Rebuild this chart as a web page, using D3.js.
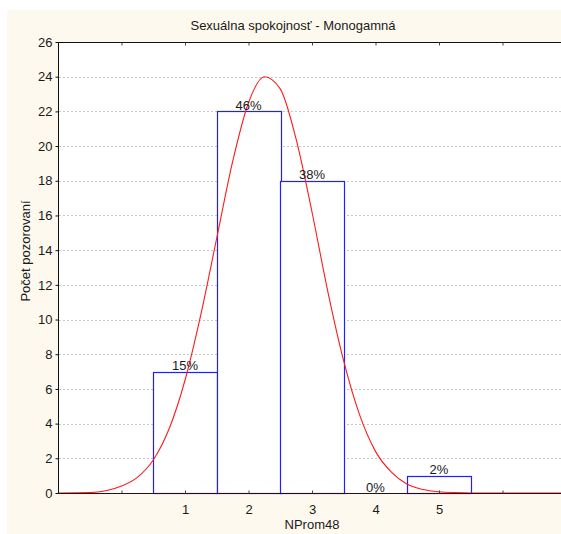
<!DOCTYPE html>
<html>
<head>
<meta charset="utf-8">
<script src="https://cdn.jsdelivr.net/npm/d3@7"></script>
<style>
  html, body { margin: 0; padding: 0; background: #ffffff; }
  svg { display: block; }
  text { font-family: "Liberation Sans", Arial, sans-serif; fill: #1a1a1a; }
</style>
</head>
<body>
<svg id="chart" width="561" height="534"></svg>
<script>
// ---- data ----
const title = "Sexuálna spokojnosť - Monogamná";
const xTitle = "NProm48";
const yTitle = "Počet pozorovaní";
const categories = [1, 2, 3, 4, 5];
const counts = [7, 22, 18, 0, 1];
const percentLabels = ["15%", "46%", "38%", "0%", "2%"];
const xTickValues = [0, 1, 2, 3, 4, 5, 6];
const xTickLabels = ["", "1", "2", "3", "4", "5", ""];
const yTickValues = [0, 2, 4, 6, 8, 10, 12, 14, 16, 18, 20, 22, 24, 26];
// fitted normal curve
const curveX = [-1, -0.5, 0, 0.25, 0.5, 0.75, 1.0, 1.25, 1.5, 1.75, 2.0, 2.25, 2.5, 2.75, 3.0, 3.25, 3.5, 3.75, 4.0, 4.25, 4.5, 4.75, 5.0, 5.25, 5.5, 6, 7];
const curveY = [0, 0.02, 0.4, 0.9, 1.9, 3.7, 6.5, 10.3, 14.7, 19.1, 22.5, 24.0, 23.3, 20.4, 16.2, 11.6, 7.6, 4.5, 2.4, 1.2, 0.5, 0.2, 0.07, 0.02, 0, 0, 0];

// ---- layout ----
const svg = d3.select("#chart");
const mLeft = 58, mTop = 42, mBottom = 493;
const x = d3.scaleLinear().domain([-1, 7]).range([mLeft, mLeft + 8 * 63.5]);
const y = d3.scaleLinear().domain([0, 26]).range([mBottom, mTop]);
const rightEdge = 561;

// backgrounds
svg.append("rect").attr("x", 7).attr("y", 10).attr("width", 561 - 7).attr("height", 534 - 10).attr("fill", "#fdf9ee");
svg.append("rect").attr("x", mLeft).attr("y", mTop).attr("width", rightEdge - mLeft).attr("height", mBottom - mTop).attr("fill", "#ffffff");

// gridlines
svg.append("g").selectAll("line")
  .data(yTickValues.filter(v => v > 0 && v < 26))
  .join("line")
  .attr("x1", mLeft + 1).attr("x2", rightEdge)
  .attr("y1", d => Math.round(y(d)) + 0.5).attr("y2", d => Math.round(y(d)) + 0.5)
  .attr("stroke", "#c8c8c8").attr("stroke-width", 1).attr("stroke-dasharray", "2,2");

// bars
const bw = x(1) - x(0);
const barData = categories.map((c, i) => ({ c, n: counts[i], p: percentLabels[i] }));
svg.append("g").selectAll("rect")
  .data(barData.filter(d => d.n > 0))
  .join("rect")
  .attr("x", d => Math.round(x(d.c - 0.5)) + 0.5)
  .attr("y", d => Math.round(y(d.n)) + 0.5)
  .attr("width", Math.round(bw))
  .attr("height", d => Math.round(y(0)) - Math.round(y(d.n)))
  .attr("fill", "#ffffff").attr("stroke", "#1f1fff").attr("stroke-width", 1.2);

// curve
const line = d3.line().x((d, i) => x(curveX[i])).y(d => y(d)).curve(d3.curveMonotoneX);
svg.append("path").datum(curveY).attr("d", line)
  .attr("fill", "none").attr("stroke", "#ff1a1a").attr("stroke-width", 1.1);

// percent labels
svg.append("g").selectAll("text")
  .data(barData)
  .join("text")
  .attr("x", d => x(d.c)).attr("y", d => y(d.n) - 1.5)
  .attr("text-anchor", "middle").attr("font-size", 13)
  .text(d => d.p);

// axes
const yAxis = d3.axisLeft(y).tickValues(yTickValues).tickSize(3).tickPadding(3).tickFormat(d3.format("d"));
const gy = svg.append("g").attr("transform", `translate(${mLeft + 0.5},0)`).call(yAxis);
gy.select(".domain").attr("stroke", "#111").attr("d", `M0,${mBottom + 0.5}V${mTop + 0.5}`);
gy.selectAll(".tick line").attr("stroke", "#111");
gy.selectAll("text").attr("font-size", 13).attr("font-family", "Liberation Sans, Arial, sans-serif").attr("fill", "#1a1a1a");

const xAxis = d3.axisBottom(x).tickValues(xTickValues).tickSize(-3).tickPadding(11)
  .tickFormat((d, i) => xTickLabels[i]);
const gx = svg.append("g").attr("transform", `translate(0,${mBottom + 0.5})`).call(xAxis);
gx.select(".domain").attr("stroke", "#2a0f0f").attr("d", `M${mLeft},0H${rightEdge}`);
gx.selectAll(".tick line").attr("stroke", "#444");
gx.selectAll("text").attr("font-size", 13).attr("font-family", "Liberation Sans, Arial, sans-serif").attr("fill", "#1a1a1a");

const xTop = d3.axisTop(x).tickValues(xTickValues).tickSize(-3).tickFormat("");
const gt = svg.append("g").attr("transform", `translate(0,${mTop + 0.5})`).call(xTop);
gt.select(".domain").attr("stroke", "#111").attr("d", `M${mLeft},0H${rightEdge}`);
gt.selectAll(".tick line").attr("stroke", "#444");

// titles
svg.append("text").attr("x", 293).attr("y", 30).attr("text-anchor", "middle").attr("font-size", 13).text(title);
svg.append("text").attr("x", x(3)).attr("y", 529).attr("text-anchor", "middle").attr("font-size", 13).text(xTitle);
svg.append("text").attr("transform", `translate(30,251) rotate(-90)`).attr("text-anchor", "middle").attr("font-size", 13).text(yTitle);
</script>
</body>
</html>
